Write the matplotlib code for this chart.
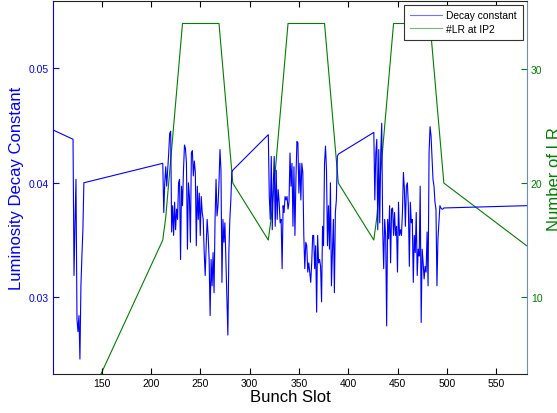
import matplotlib
matplotlib.use("Agg")
import matplotlib.pyplot as plt
from matplotlib.ticker import FormatStrFormatter

plt.rcParams['font.family'] = ['Liberation Sans', 'DejaVu Sans']

# ---------------- data ----------------
# bunch slots
slot_first = [101]
slot_lead = list(range(121, 133))
slot_train1 = list(range(212, 284))
slot_train2 = list(range(319, 391))
slot_train3 = list(range(426, 498))
slot_last = [581]

# luminosity decay constant
decay_first = [0.0446]
decay_lead = [0.0438, 0.0319, 0.0365, 0.0403, 0.0281, 0.0270, 0.0284, 0.0246,
              0.0310, 0.0336, 0.0359, 0.0400]
decay_train1 = [0.0417, 0.0374, 0.0400, 0.0414, 0.0397, 0.0411, 0.0426, 0.0443,
                0.0445, 0.0357, 0.0380, 0.0354, 0.0383, 0.0359, 0.0377, 0.0368,
                0.0400, 0.0403, 0.0333, 0.0397, 0.0380, 0.0411, 0.0433, 0.0430,
                0.0417, 0.0342, 0.0400, 0.0388, 0.0348, 0.0426, 0.0428, 0.0406,
                0.0419, 0.0409, 0.0345, 0.0397, 0.0368, 0.0391, 0.0354, 0.0388,
                0.0374, 0.0368, 0.0339, 0.0319, 0.0345, 0.0368, 0.0354, 0.0333,
                0.0284, 0.0333, 0.0310, 0.0339, 0.0304, 0.0368, 0.0403, 0.0371,
                0.0380, 0.0400, 0.0429, 0.0411, 0.0313, 0.0368, 0.0348, 0.0365,
                0.0333, 0.0304, 0.0267, 0.0339, 0.0368, 0.0385, 0.0409, 0.0411]
decay_train2 = [0.0442, 0.0388, 0.0368, 0.0423, 0.0359, 0.0397, 0.0423, 0.0362,
                0.0411, 0.0368, 0.0394, 0.0383, 0.0365, 0.0368, 0.0325, 0.0380,
                0.0374, 0.0388, 0.0385, 0.0388, 0.0377, 0.0383, 0.0426, 0.0397,
                0.0417, 0.0362, 0.0414, 0.0354, 0.0403, 0.0436, 0.0435, 0.0391,
                0.0417, 0.0385, 0.0417, 0.0409, 0.0354, 0.0325, 0.0348, 0.0345,
                0.0322, 0.0330, 0.0322, 0.0313, 0.0330, 0.0354, 0.0354, 0.0325,
                0.0345, 0.0287, 0.0354, 0.0330, 0.0333, 0.0327, 0.0296, 0.0362,
                0.0345, 0.0417, 0.0432, 0.0411, 0.0345, 0.0380, 0.0342, 0.0400,
                0.0310, 0.0339, 0.0368, 0.0304, 0.0374, 0.0385, 0.0423, 0.0425]
decay_train3 = [0.0444, 0.0385, 0.0426, 0.0438, 0.0359, 0.0429, 0.0365, 0.0426,
                0.0452, 0.0359, 0.0325, 0.0368, 0.0354, 0.0275, 0.0368, 0.0351,
                0.0380, 0.0330, 0.0377, 0.0378, 0.0354, 0.0374, 0.0354, 0.0362,
                0.0322, 0.0383, 0.0354, 0.0359, 0.0354, 0.0374, 0.0409, 0.0394,
                0.0362, 0.0397, 0.0400, 0.0380, 0.0327, 0.0383, 0.0365, 0.0368,
                0.0313, 0.0354, 0.0339, 0.0374, 0.0319, 0.0342, 0.0336, 0.0397,
                0.0278, 0.0342, 0.0330, 0.0316, 0.0327, 0.0322, 0.0357, 0.0310,
                0.0426, 0.0449, 0.0441, 0.0423, 0.0403, 0.0397, 0.0383, 0.0377,
                0.0310, 0.0351, 0.0365, 0.0380, 0.0378, 0.0377, 0.0377, 0.0378]
decay_last = [0.0380]

# number of long-range encounters at IP2
lr_first = [0]
lr_lead = [0, 0, 0, 0, 0, 0, 0, 0, 0, 0, 0, 0]
lr_train = [15, 15.7, 16.3, 17, 18, 19, 20, 21, 22, 23, 24, 25, 26, 27, 28, 29,
            30, 31, 32, 33, 34,
            34, 34, 34, 34, 34, 34, 34, 34, 34, 34, 34, 34, 34, 34, 34, 34, 34,
            34, 34, 34, 34, 34, 34, 34, 34, 34, 34, 34, 34, 34, 34, 34, 34, 34,
            34, 34, 34,
            33, 32, 31, 30, 29, 28, 27, 26, 25, 24, 23, 22, 21, 20]
lr_last = [14.5]

slots = slot_first + slot_lead + slot_train1 + slot_train2 + slot_train3 + slot_last
decay = decay_first + decay_lead + decay_train1 + decay_train2 + decay_train3 + decay_last
lr = lr_first + lr_lead + lr_train + lr_train + lr_train + lr_last

x_ticks = [150, 200, 250, 300, 350, 400, 450, 500, 550]
left_ticks = [0.03, 0.04, 0.05]
right_ticks = [10, 20, 30]

BLUE = '#0000ff'
GREEN = '#007f00'

# ---------------- figure ----------------
fig = plt.figure(figsize=(5.57, 4.14), dpi=100)
ax = fig.add_axes([0.0957, 0.0942, 0.8499, 0.9017])
ax2 = ax.twinx()
ax.set_zorder(ax2.get_zorder() + 1)
ax.patch.set_visible(False)

l1, = ax.plot(slots, decay, color=BLUE, lw=0.8, label='Decay constant')
l2, = ax2.plot(slots, lr, color=GREEN, lw=0.8, label='#LR at IP2')

ax.set_xlim(101, 581)
ax.set_ylim(0.0233, 0.0559)
ax2.set_ylim(3.25, 36.0)

ax.set_xticks(x_ticks)
ax.set_yticks(left_ticks)
ax2.set_yticks(right_ticks)
ax.yaxis.set_major_formatter(FormatStrFormatter('%.2f'))

ax.tick_params(axis='x', direction='in', length=4, width=0.8, top=True,
               labelsize=7.5, pad=3, colors='black')
ax.tick_params(axis='y', direction='in', length=4, width=0.8, right=False,
               labelsize=7.5, pad=3, colors=BLUE)
ax2.tick_params(axis='y', direction='in', length=4, width=0.8,
                labelsize=7.5, pad=3, colors=GREEN)

for s in ax2.spines.values():
    s.set_visible(False)
ax.spines['left'].set_color(BLUE)
ax.spines['right'].set_color('#6e8cbe')
ax.spines['top'].set_color('#222222')
ax.spines['bottom'].set_color('#222222')
for s in ax.spines.values():
    s.set_linewidth(0.8)

ax.set_xlabel('Bunch Slot', fontsize=12)
ax.xaxis.set_label_coords(0.5, -0.040)
ax.set_ylabel('Luminosity Decay Constant', fontsize=12, color=BLUE)
ax.yaxis.set_label_coords(-0.062, 0.5)
ax2.set_ylabel('Number of LR', fontsize=12, color=GREEN)
ax2.yaxis.set_label_coords(1.0425, 0.525)

leg = ax.legend(handles=[l1, l2], loc='upper right', fontsize=7.4,
                frameon=True, fancybox=False, framealpha=1,
                edgecolor='#333333', borderaxespad=0.4, handlelength=3.1,
                handletextpad=0.45, labelspacing=0.35, borderpad=0.55)
leg.get_frame().set_linewidth(0.8)
for h in leg.get_lines():
    h.set_alpha(0.55)

fig.savefig('out.png', dpi=100)
